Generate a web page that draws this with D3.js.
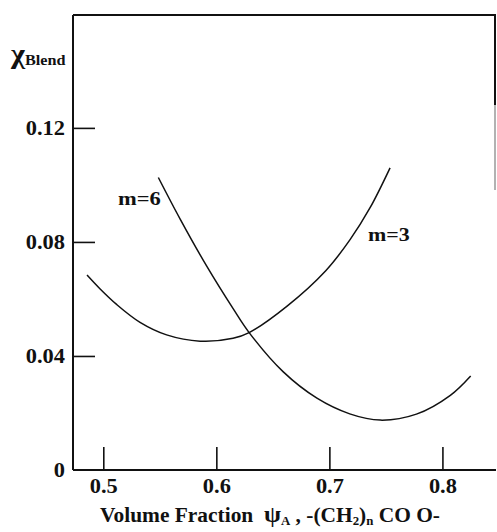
<!DOCTYPE html>
<html>
<head>
<meta charset="utf-8">
<script src="https://cdn.jsdelivr.net/npm/d3@7"></script>
<style>
  body { margin: 0; background: #fff; }
  svg text { font-family: "Liberation Serif", "Times New Roman", serif; font-weight: bold; fill: #111; }
</style>
</head>
<body>
<div id="chart"></div>
<script>
// values
const m3X = [0.4856, 0.497, 0.512, 0.5325, 0.556, 0.5856, 0.6148, 0.629, 0.6626, 0.697, 0.7183, 0.736, 0.7537];
const m3Y = [0.0684, 0.0636, 0.0580, 0.0518, 0.0474, 0.0452, 0.0462, 0.0482, 0.0575, 0.0700, 0.0808, 0.0920, 0.1060];
const m6X = [0.5487, 0.568, 0.5915, 0.615, 0.629, 0.659, 0.689, 0.718, 0.745, 0.777, 0.807, 0.825];
const m6Y = [0.1026, 0.0880, 0.0715, 0.0565, 0.0482, 0.0345, 0.0252, 0.0197, 0.0175, 0.0196, 0.0262, 0.0330];
const xTicks = [0.5, 0.6, 0.7, 0.8];
const xTickLabels = ['0.5', '0.6', '0.7', '0.8'];
const yTicks = [0, 0.04, 0.08, 0.12];
const yTickLabels = ['0', '0.04', '0.08', '0.12'];

const margin = { top: 15, right: 1, bottom: 62, left: 73 };
const width = 497 - margin.left - margin.right;
const height = 532 - margin.top - margin.bottom;

const svg = d3.select('#chart')
  .append('svg')
  .attr('width', 497)
  .attr('height', 532);

const g = svg.append('g')
  .attr('transform', `translate(${margin.left},${margin.top})`);

const xScale = d3.scaleLinear().domain([0.4732, 0.8474]).range([0, width]);
const yScale = d3.scaleLinear().domain([0, 0.1596]).range([height, 0]);

// widen text a little, the scanned type is broader than Times
function stretch(sel, k) {
  sel.each(function () {
    const w = this.getComputedTextLength();
    this.setAttribute('textLength', w * k);
    this.setAttribute('lengthAdjust', 'spacingAndGlyphs');
  });
}

// axes with inward ticks
const xAxis = g.append('g')
  .attr('transform', `translate(0,${height})`)
  .call(d3.axisBottom(xScale).tickValues(xTicks).tickSize(-23).tickPadding(9)
    .tickFormat((d, i) => xTickLabels[i]));
const yAxis = g.append('g')
  .call(d3.axisLeft(yScale).tickValues(yTicks).tickSize(-22).tickPadding(8)
    .tickFormat((d, i) => yTickLabels[i]));

[xAxis, yAxis].forEach((ax) => {
  ax.select('.domain').remove();
  ax.selectAll('line').attr('stroke', '#111').attr('stroke-width', 1.6);
  ax.selectAll('text')
    .attr('font-size', 20)
    .attr('font-family', '"Liberation Serif", "Times New Roman", serif')
    .attr('fill', '#111');
  stretch(ax.selectAll('text'), 1.12);
});
yAxis.selectAll('.tick').filter((d) => d === 0).select('line').remove();

// frame
const frame = g.append('g').attr('stroke', '#111').attr('fill', 'none');
frame.append('line').attr('x1', 0).attr('y1', 0).attr('x2', 0).attr('y2', height).attr('stroke-width', 2);
frame.append('line').attr('x1', 0).attr('y1', height).attr('x2', width).attr('y2', height).attr('stroke-width', 2);
frame.append('line').attr('x1', 0).attr('y1', 0).attr('x2', width).attr('y2', 0).attr('stroke-width', 2);
frame.append('line').attr('x1', width - 1).attr('y1', 0).attr('x2', width - 1).attr('y2', 90).attr('stroke-width', 2);
frame.append('line').attr('x1', width - 1).attr('y1', 90).attr('x2', width - 1).attr('y2', 175)
  .attr('stroke', '#999').attr('stroke-width', 1.5);

// curves
const line = d3.line()
  .x((d) => xScale(d[0]))
  .y((d) => yScale(d[1]))
  .curve(d3.curveCatmullRom.alpha(0.5));

const m3 = m3X.map((x, i) => [x, m3Y[i]]);
const m6 = m6X.map((x, i) => [x, m6Y[i]]);

g.selectAll('.curve')
  .data([m3, m6])
  .enter()
  .append('path')
  .attr('class', 'curve')
  .attr('d', line)
  .attr('fill', 'none')
  .attr('stroke', '#111')
  .attr('stroke-width', 1.5);

// curve labels
const lab6 = svg.append('text').attr('x', 118).attr('y', 205).attr('font-size', 18).text('m=6');
stretch(lab6, 1.25);
const lab3 = svg.append('text').attr('x', 368).attr('y', 241).attr('font-size', 18).text('m=3');
stretch(lab3, 1.22);

// y label
const yLab = svg.append('text').attr('x', 11).attr('y', 63);
yLab.append('tspan').attr('font-size', 28).text('χ');
yLab.append('tspan').attr('font-size', 15).attr('dy', 2).text('Blend');
stretch(yLab, 1.08);

// x title
const title = svg.append('text')
  .attr('x', 100)
  .attr('y', 522)
  .attr('font-size', 20)
  .style('white-space', 'pre');
title.append('tspan').text('Volume Fraction  ');
title.append('tspan').attr('font-size', 23).text('ψ');
title.append('tspan').attr('font-size', 12).attr('dy', 3).text('A');
title.append('tspan').attr('dy', -3).text(' , -(CH');
title.append('tspan').attr('font-size', 12).attr('dy', 3).text('2');
title.append('tspan').attr('dy', -3).text(')');
title.append('tspan').attr('font-size', 12).attr('dy', 3).text('n');
title.append('tspan').attr('dy', -3).text(' CO O-');
title.attr('textLength', 340).attr('lengthAdjust', 'spacingAndGlyphs');
</script>
</body>
</html>
